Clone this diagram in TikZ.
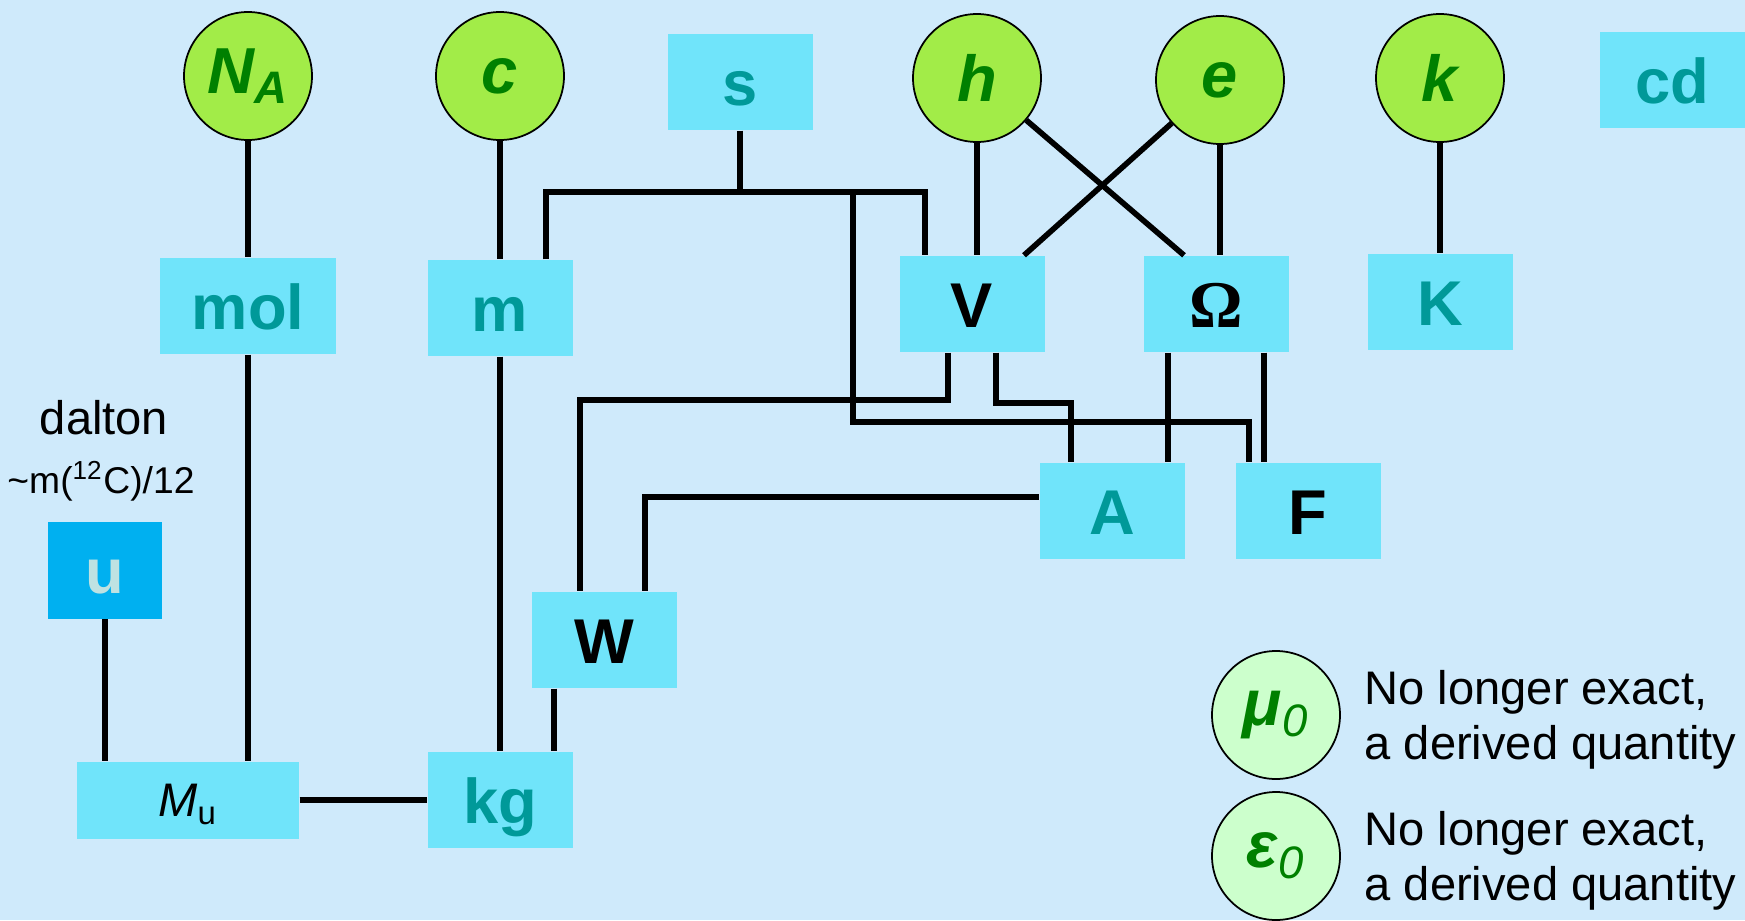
\documentclass[tikz,border=0pt]{standalone}
\usepackage{fontspec}
\setmainfont{Liberation Sans}
\newfontfamily\serifgreek{Liberation Serif}
\usetikzlibrary{positioning}
\definecolor{paper}{RGB}{207,234,251}
\definecolor{unitfill}{RGB}{112,228,250}
\definecolor{unittext}{RGB}{0,153,153}
\definecolor{constfill}{RGB}{162,236,72}
\definecolor{consttext}{RGB}{0,128,0}
\definecolor{oldfill}{RGB}{204,255,204}
\definecolor{ufill}{RGB}{0,176,240}
\definecolor{utext}{RGB}{190,226,226}
\newcommand\unitsize{\fontsize{18}{21}\selectfont}
\newcommand\constsize{\fontsize{18.5}{22}\selectfont}
\newcommand\notesize{\fontsize{13.4}{15.6}\selectfont}
\newcommand\smallnote{\fontsize{10.6}{12}\selectfont}
\begin{document}
\begin{tikzpicture}[x=0.1mm,y=-0.1mm,
    unit/.style={fill=unitfill,text=unittext,minimum width=14.5mm,minimum height=9.6mm,inner sep=0pt,
      text height=13.6pt,text depth=0pt,font=\unitsize\bfseries},
    dark/.style={text=black},
    const/.style={draw,circle,fill=constfill,text=consttext,minimum size=12.8mm,inner sep=0pt,line width=0.5pt,font=\constsize\bfseries\itshape},
    old/.style={const,fill=oldfill},
    link/.style={line width=1.6pt},
    note/.style={font=\notesize,align=left,inner sep=0pt}
  ]
  \fill[paper] (0,0) rectangle (1745,920);
  \useasboundingbox (0,0) rectangle (1745,920);

  % defining constants
  \node[const] (NA) at (248,76) {N\textsubscript{A}};
  \node[const] (c) at (500,76) {c};
  \node[const] (h) at (977,78) {h};
  \node[const] (e) at (1220,80) {e};
  \node[const] (k) at (1440,78) {k};

  % units
  \node[unit] (s) at (740,82) {s};
  \node[unit] (cd) at (1672,80) {cd};
  \node[unit,minimum width=17.6mm] (mol) at (248,306) {mol};
  \node[unit] (m) at (500,308) {m};
  \node[unit,dark] (V) at (972,304) {V};
  \node[unit,dark] (Om) at (1216,304) {\serifgreek\fontsize{19}{22}\selectfont Ω};
  \node[unit] (K) at (1440,302) {K};
  \node[unit] (A) at (1112,511) {A};
  \node[unit,dark] (F) at (1308,511) {F};
  \node[unit,dark] (W) at (604,640) {W};
  \node[unit] (kg) at (500,800) {kg};
  \node[unit,text=black,font=\notesize,text height=9.6pt,minimum width=22.2mm,minimum height=7.7mm] (Mu) at (188,800) {\textit{M}\textsubscript{u}};
  \node[unit,fill=ufill,text=utext,minimum width=11.4mm,minimum height=9.7mm] (u) at (105,570) {u};
  \node[font=\notesize] (dalton) at (104,418) {dalton};
  \node[font=\smallnote] (carbon) at (101,481) {\textasciitilde m(\textsuperscript{12}C)/12};

  % links
  \draw[link] (NA) -- (mol);
  \draw[link] (c) -- (m);
  \draw[link] (m) -- (kg);
  \draw[link] (mol.south) -- (mol.south |- Mu.north);
  \draw[link] (u.south) -- (u.south |- Mu.north);
  \draw[link] (Mu) -- (kg);
  \draw[link] ([xshift=-5mm]W.south) -- ([xshift=-5mm]W.south |- kg.north);

  \coordinate (bus) at (740,192);
  \coordinate (busF) at (853,192);
  \draw[link] (s) -- (bus);
  \draw[link] ([xshift=4.6mm]m.north) |- (bus) -| ([xshift=-4.7mm]V.north);
  \draw[link] (busF) -- ++(0,230) -| ([xshift=-5.9mm]F.north);

  \draw[link] ([xshift=-2.4mm]V.south) -- ++(0,47) -| ([xshift=-2.4mm]W.north);
  \draw[link] ([xshift=2.4mm]V.south) -- ++(0,50) -| ([xshift=-4.1mm]A.north);
  \draw[link] ([xshift=-4.8mm]Om.south) -- ([xshift=-4.8mm]Om.south |- A.north);
  \draw[link] ([xshift=4.8mm]Om.south) -- ([xshift=4.8mm]Om.south |- F.north);
  \draw[link] ([yshift=1.4mm]A.west) -| ([xshift=4.1mm]W.north);

  \draw[link] (h.south) -- (h.south |- V.north);
  \draw[link] (h) -- ([xshift=-3.2mm]Om.north);
  \draw[link] (e) -- ([xshift=5.2mm]V.north);
  \draw[link] (e.south) -- (e.south |- Om.north);
  \draw[link] (k.south) -- (k.south |- K.north);

  % no longer exact
  \node[old] (mu0) at (1276,715) {μ\textsubscript{\mdseries 0}};
  \node[old] (eps0) at (1276,856) {ε\textsubscript{\mdseries 0}};
  \node[note,right=2.3mm of mu0,yshift=-0.5mm] (mu0note) {No longer exact,\\a derived quantity};
  \node[note,right=2.3mm of eps0,yshift=-0.5mm] (eps0note) {No longer exact,\\a derived quantity};
\end{tikzpicture}
\end{document}
